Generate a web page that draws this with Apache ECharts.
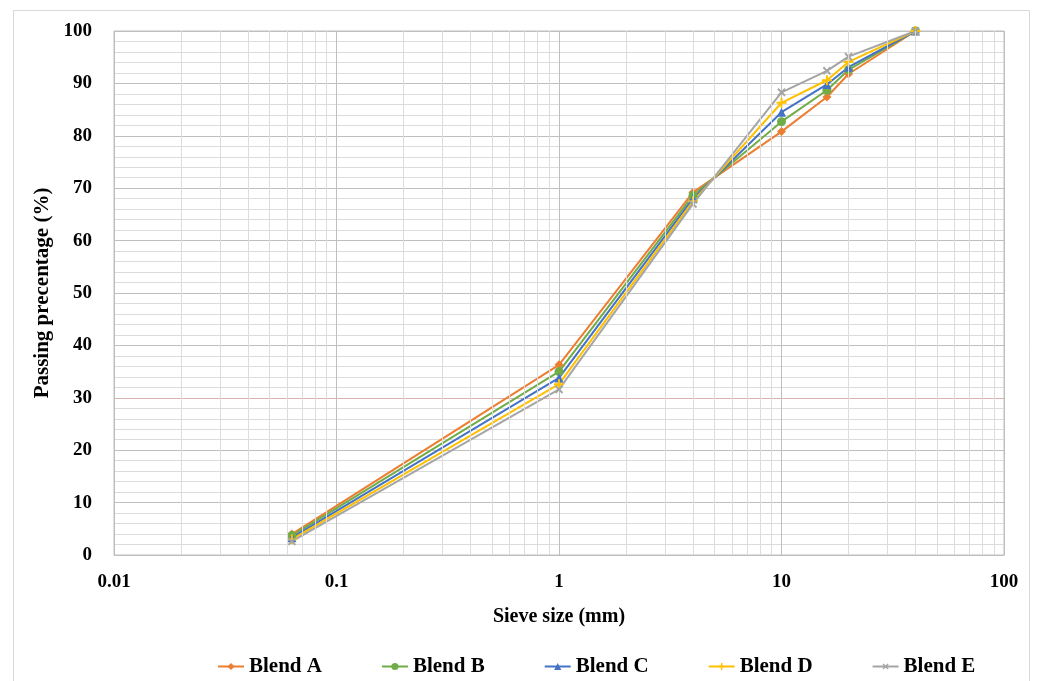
<!DOCTYPE html>
<html>
<head>
<meta charset="utf-8">
<script src="https://cdn.jsdelivr.net/npm/echarts@6/dist/echarts.min.js"></script>
<style>
  html, body { margin: 0; padding: 0; background: #fff; }
  #main_container { width: 1038px; height: 681px; }
</style>
</head>
<body>
<div id="main_container"></div>
<script>
// sieve sizes (mm) and passing percentages
var sieveSizes = [0.063, 1, 4, 10, 16, 20, 40];
var blendA = [4.0, 36.3, 69.2, 80.8, 87.4, 91.8, 100];
var blendB = [3.7, 35.0, 68.6, 82.7, 88.7, 92.6, 100];
var blendC = [3.3, 33.8, 68.0, 84.5, 89.8, 93.1, 100];
var blendD = [3.0, 32.6, 67.5, 86.3, 90.6, 94.1, 100];
var blendE = [2.6, 31.6, 67.0, 88.3, 92.4, 95.1, 100];
var seriesNames = ["Blend A", "Blend B", "Blend C", "Blend D", "Blend E"];
var xTicks = [0.01, 0.1, 1, 10, 100];

var fontFam = "Liberation Serif";
var plusPath = "path://M4,0h2v4h4v2h-4v4h-2v-4h-4v-2h4z";

// minor log gridlines 2..9 per decade
var minorX = [];
for (var d = 0; d < xTicks.length - 1; d++) {
  for (var m = 2; m <= 9; m++) {
    minorX.push({ xAxis: +(xTicks[d] * m).toPrecision(3) });
  }
}

function pairs(ys) {
  return sieveSizes.map(function (x, i) { return [x, ys[i]]; });
}

function makeSeries(name, ys, color, symbol, size, rotate) {
  return {
    name: name,
    type: "line",
    data: pairs(ys),
    symbol: symbol,
    symbolSize: size,
    symbolRotate: rotate || 0,
    lineStyle: { color: color, width: 2 },
    itemStyle: { color: color },
    z: 3,
  };
}

var splitColors = [];
for (var k = 0; k <= 10; k++) splitColors.push(k === 3 ? "#d9b3b3" : "#bfbfbf");

var myChart = echarts.init(document.getElementById("main_container"));
myChart.setOption({
  animation: false,
  backgroundColor: "#fff",
  graphic: [
    {
      type: "rect",
      shape: { x: 13.5, y: 10.5, width: 1016, height: 700 },
      style: { fill: "none", stroke: "#d9d9d9", lineWidth: 1 },
      silent: true,
    },
  ],
  grid: {
    left: 114,
    right: 34,
    top: 31,
    bottom: 126,
    show: true,
    borderColor: "#bfbfbf",
    borderWidth: 1,
  },
  legend: {
    data: seriesNames,
    left: 212,
    top: 651,
    itemGap: 59,
    itemWidth: 26,
    itemHeight: 9,
    textStyle: { fontFamily: fontFam, fontWeight: "bold", fontSize: 21, color: "#000" },
  },
  xAxis: {
    type: "log",
    logBase: 10,
    min: 0.01,
    max: 100,
    name: "Sieve size (mm)",
    nameLocation: "middle",
    nameGap: 52,
    nameTextStyle: { fontFamily: fontFam, fontWeight: "bold", fontSize: 20, color: "#000" },
    axisLine: { show: true, lineStyle: { color: "#bfbfbf" } },
    axisTick: { show: false },
    axisLabel: {
      margin: 18,
      fontFamily: fontFam,
      fontWeight: "bold",
      fontSize: 19,
      color: "#000",
      formatter: function (v) { return String(+v.toPrecision(3)); },
    },
    splitLine: { show: true, lineStyle: { color: "#bfbfbf", width: 1 } },
  },
  yAxis: {
    type: "value",
    min: 0,
    max: 100,
    interval: 10,
    name: "Passing precentage (%)",
    nameLocation: "middle",
    nameGap: 58,
    nameTextStyle: { fontFamily: fontFam, fontWeight: "bold", fontSize: 21, color: "#000" },
    axisLine: { show: false },
    axisTick: { show: false },
    axisLabel: {
      margin: 22,
      fontFamily: fontFam,
      fontWeight: "bold",
      fontSize: 19,
      color: "#000",
    },
    splitLine: { show: true, lineStyle: { color: splitColors, width: 1 } },
    minorTick: { show: false, splitNumber: 5 },
    minorSplitLine: { show: true, lineStyle: { color: "#dcdcdc", width: 1 } },
  },
  series: [
    {
      name: "minor-grid",
      type: "line",
      data: [],
      silent: true,
      z: 1,
      markLine: {
        silent: true,
        symbol: "none",
        label: { show: false },
        animation: false,
        lineStyle: { color: "#dcdcdc", width: 1, type: "solid" },
        data: minorX,
      },
    },
    makeSeries("Blend A", blendA, "#ED7D31", "diamond", 9),
    makeSeries("Blend B", blendB, "#70AD47", "circle", 9),
    makeSeries("Blend C", blendC, "#4472C4", "triangle", 9),
    makeSeries("Blend D", blendD, "#FFC000", plusPath, 10),
    makeSeries("Blend E", blendE, "#A5A5A5", plusPath, 10, 45),
  ],
});
</script>
</body>
</html>
